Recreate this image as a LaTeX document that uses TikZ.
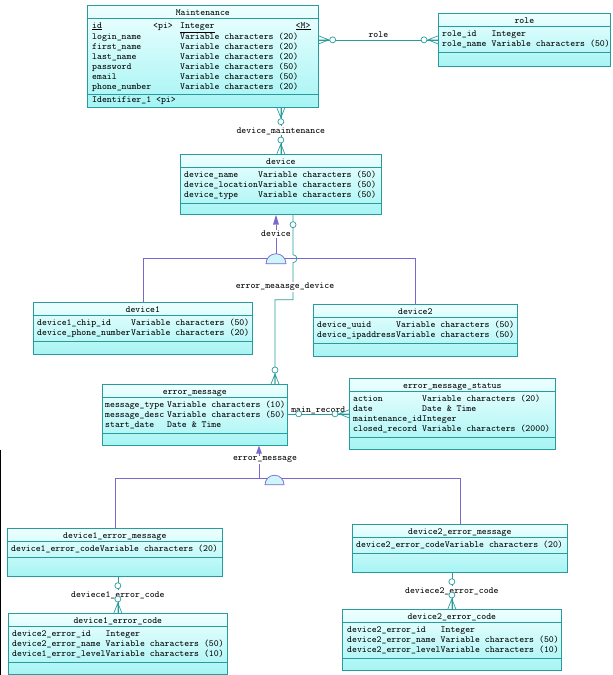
\documentclass[tikz,border=0pt]{standalone}
\usetikzlibrary{calc}
\definecolor{erline}{RGB}{40,156,156}
\definecolor{boxtop}{RGB}{238,255,255}
\definecolor{boxbot}{RGB}{166,244,244}
\definecolor{inh}{RGB}{122,104,204}
\definecolor{inhfill}{RGB}{205,245,250}
\newcommand\erfont{\fontsize{9.37}{10}\selectfont\ttfamily}
% entity box: name, x, y, width, height, title, number of attribute rows
\newcommand\entity[7]{%
  \node[entbox, minimum width=#4pt, minimum height=#5pt] (#1) at (#2,#3) {};
  \node[ttl] (#1-title) at ($(#1.north)+(0,10)$) {#6};
  \draw[sep] ($(#1.north west)+(0,13)$) -- ($(#1.north east)+(0,13)$);
  \draw[sep] ($(#1.north west)+(0,{19+10*#7})$) -- ($(#1.north east)+(0,{19+10*#7})$);
}
\tikzset{
  entbox/.style={draw=erline, line width=0.7pt, top color=boxtop, bottom color=boxbot,
    rectangle, inner sep=0pt, anchor=north west},
  ttl/.style={font=\erfont, inner sep=0pt, anchor=base},
  attrs/.style={font=\erfont, inner sep=0pt, anchor=north west, align=left},
  sep/.style={draw=erline, line width=0.7pt},
  er/.style={draw=erline, line width=0.7pt},
  rlabel/.style={font=\erfont, fill=white, inner sep=1pt},
  isa/.style={draw=inh, line width=0.7pt},
  many/.pic={\draw[er] (0,-4) -- (10,0) -- (0,4) (0,0) -- (10,0);
             \draw[er, fill=white] (14,0) circle[radius=3pt];},
  zeroat/.pic={\draw[er, fill=white] (#1,0) circle[radius=3pt];},
}
\begin{document}
\begin{tikzpicture}[x=1pt,y=-1pt]
\fill[white] (0,0) rectangle (613,675);
\useasboundingbox (0,0) rectangle (613,675);
\draw[black, line width=1pt] (0.5,450) -- (0.5,675);

% ---------- entities ----------
\entity{maint}{87}{5}{231}{102}{Maintenance}{7}
\node[attrs] (maint-attrs) at ($(maint.north west)+(5,16)$) {\begin{tabular}{@{}p{61pt}@{}p{27pt}@{}l@{}}
\underline{id} & <pi> & \underline{Integer}\\
login\_name && Variable characters (20)\\
first\_name && Variable characters (20)\\
last\_name && Variable characters (20)\\
password && Variable characters (50)\\
email && Variable characters (50)\\
phone\_number && Variable characters (20)
\end{tabular}};
\node[font=\erfont, inner sep=0pt, anchor=base east] (maint-m) at ($(maint.north east)+(-8,23)$) {\underline{<M>}};
\node[attrs] (maint-ident) at ($(maint.north west)+(5,91)$) {Identifier\_1 <pi>};

\entity{role}{438}{13}{172}{53}{role}{2}
\node[attrs] (role-attrs) at ($(role.north west)+(4,16)$) {\begin{tabular}{@{}p{49.5pt}@{}l@{}}
role\_id & Integer\\
role\_name & Variable characters (50)
\end{tabular}};

\entity{dev}{180}{154}{201}{60}{device}{3}
\node[attrs] (dev-attrs) at ($(dev.north west)+(4,16)$) {\begin{tabular}{@{}p{74pt}@{}l@{}}
device\_name & Variable characters (50)\\
device\_location & Variable characters (50)\\
device\_type & Variable characters (50)
\end{tabular}};

\entity{dev1}{33}{302}{219}{52}{device1}{2}
\node[attrs] (dev1-attrs) at ($(dev1.north west)+(4,16)$) {\begin{tabular}{@{}p{94pt}@{}l@{}}
device1\_chip\_id & Variable characters (50)\\
device\_phone\_number & Variable characters (20)
\end{tabular}};

\entity{dev2}{313}{304}{204}{52}{device2}{2}
\node[attrs] (dev2-attrs) at ($(dev2.north west)+(4,16)$) {\begin{tabular}{@{}p{79pt}@{}l@{}}
device\_uuid & Variable characters (50)\\
device\_ipaddress & Variable characters (50)
\end{tabular}};

\entity{err}{102}{384}{185}{61}{error\_message}{3}
\node[attrs] (err-attrs) at ($(err.north west)+(3,16)$) {\begin{tabular}{@{}p{62pt}@{}l@{}}
message\_type & Variable characters (10)\\
message\_desc & Variable characters (50)\\
start\_date & Date \& Time
\end{tabular}};

\entity{ems}{349}{378}{206}{71}{error\_message\_status}{4}
\node[attrs] (ems-attrs) at ($(ems.north west)+(4,16)$) {\begin{tabular}{@{}p{69pt}@{}l@{}}
action & Variable characters (20)\\
date & Date \& Time\\
maintenance\_id & Integer\\
closed\_record & Variable characters (2000)
\end{tabular}};

\entity{dem1}{7}{528}{215}{48}{device1\_error\_message}{1}
\node[attrs] (dem1-attrs) at ($(dem1.north west)+(4,16)$) {\begin{tabular}{@{}p{88.6pt}@{}l@{}}
device1\_error\_code & Variable characters (20)
\end{tabular}};

\entity{dem2}{352}{524}{215}{48}{device2\_error\_message}{1}
\node[attrs] (dem2-attrs) at ($(dem2.north west)+(4,16)$) {\begin{tabular}{@{}p{88.6pt}@{}l@{}}
device2\_error\_code & Variable characters (20)
\end{tabular}};

\entity{dec1}{8}{613}{219}{61}{device1\_error\_code}{3}
\node[attrs] (dec1-attrs) at ($(dec1.north west)+(4,16)$) {\begin{tabular}{@{}p{93.5pt}@{}l@{}}
device2\_error\_id & Integer\\
device2\_error\_name & Variable characters (50)\\
device1\_error\_level & Variable characters (10)
\end{tabular}};

\entity{dec2}{342}{609}{219}{61}{device2\_error\_code}{3}
\node[attrs] (dec2-attrs) at ($(dec2.north west)+(5,16)$) {\begin{tabular}{@{}p{93.5pt}@{}l@{}}
device2\_error\_id & Integer\\
device2\_error\_name & Variable characters (50)\\
device2\_error\_level & Variable characters (10)
\end{tabular}};

% ---------- relationships ----------
% role
\draw[er] (maint.east |- role.west) -- node[font=\erfont, above=1pt, inner sep=1pt] (role-label) {role} (role.west);
\pic at (maint.east |- role.west) {many};
\pic[rotate=180] at (role.west) {many};

% device_maintenance
\draw[er] (dev.north |- maint.south) coordinate (dmA) -- node[rlabel] (dm-label) {device\_maintenance} (dev.north);
\pic[rotate=-90] at (dmA) {many};
\pic[rotate=90] at (dev.north) {many};

% main_record
\draw[er] (err.east |- ems.west) coordinate (mrA) -- node[font=\erfont, above=-1pt, inner sep=1pt] (mr-label) {main\_record} (ems.west);
\pic at (mrA) {zeroat=11};
\pic[rotate=180] at (ems.west) {many};

% deviece1_error_code / deviece2_error_code
\draw[er] (dec1.north |- dem1.south) coordinate (c1A) -- node[rlabel] (c1-label) {deviece1\_error\_code} (dec1.north);
\pic[rotate=-90] at (c1A) {zeroat=9};
\pic[rotate=90] at (dec1.north) {many};
\draw[er] (dec2.north |- dem2.south) coordinate (c2A) -- node[rlabel] (c2-label) {deviece2\_error\_code} (dec2.north);
\pic[rotate=-90] at (c2A) {zeroat=9};
\pic[rotate=90] at (dec2.north) {many};

% ---------- device inheritance ----------
\coordinate (inhA) at ($(dev.south west)+(96,0)$);
\coordinate (dsplit) at ($(inhA)+(0,44)$);
\draw[isa] (dev1.north) |- (dsplit) -| (dev2.north);
\draw[isa] ($(inhA)+(0,10)$) -- ($(dsplit)+(0,-5)$);
\fill[inh] (inhA) -- ++(-3,10) -- ++(6,0) -- cycle;
\node[rlabel] (inh-label) at ($(inhA)+(0,19)$) {device};
\filldraw[isa, fill=inhfill] ($(dsplit)+(-10,5)$) arc[start angle=180, end angle=0, radius=10pt] -- cycle;

% error_meaasge_device (hops over the inheritance line)
\draw[er] ($(dev.south west)+(113,0)$) coordinate (emdA) -- ++(0,40)
  arc[start angle=90, end angle=-90, radius=4pt] -- ++(0,37) -| ($(err.north west)+(173,0)$) coordinate (emdB);
\node[rlabel] (emd-label) at ($(emdA)+(-8,72)$) {error\_meaasge\_device};
\pic[rotate=-90] at (emdA) {zeroat=10};
\pic[rotate=90] at (emdB) {many};

% ---------- error_message inheritance ----------
\coordinate (inhB) at ($(err.south west)+(157,0)$);
\coordinate (esplit) at ($(inhB)+(0,33)$);
\draw[isa] (dem1.north) |- (esplit) -| (dem2.north);
\draw[isa] ($(inhB)+(0,7)$) -- (esplit);
\fill[inh] (inhB) -- ++(-3,8) -- ++(6,0) -- cycle;
\node[rlabel] (inh2-label) at ($(inhB)+(6,14)$) {error\_message};
\filldraw[isa, fill=inhfill] ($(esplit)+(6,6)$) arc[start angle=180, end angle=0, radius=9.5pt] -- cycle;
\end{tikzpicture}
\end{document}
